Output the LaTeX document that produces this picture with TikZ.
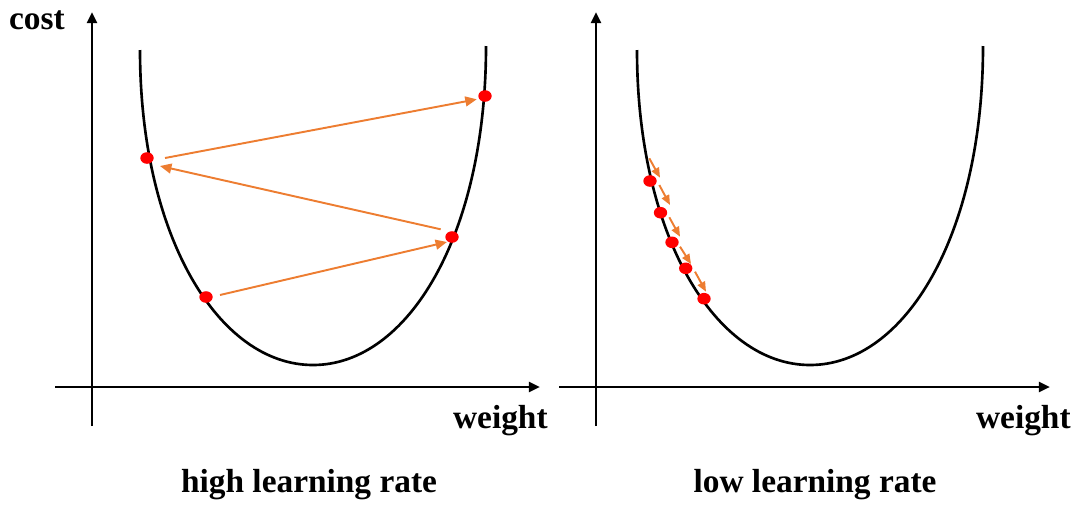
\documentclass[tikz,border=0pt]{standalone}
\usepackage{fontspec}
\setmainfont{Liberation Serif}
\usetikzlibrary{arrows.meta,shapes.geometric}
\definecolor{stepor}{HTML}{ED7D31}
\definecolor{dotred}{HTML}{FF0000}
\tikzset{
  axisline/.style={line width=1.5pt,-{Triangle[length=6.3pt,width=5.6pt]}},
  costcurve/.style={line width=1.5pt},
  dot/.style={ellipse,fill=dotred,draw=none,minimum width=7.6pt,minimum height=6.6pt,inner sep=0pt},
  bigstep/.style={stepor,line width=1.1pt,-{Triangle[length=6.5pt,width=5.6pt]}},
  smallstep/.style={stepor,line width=1.1pt,-{Triangle[length=5.6pt,width=4.6pt]}},
  lbl/.style={font=\bfseries\fontsize{19}{23}\selectfont,inner sep=0pt}
}
\begin{document}
\begin{tikzpicture}[x=0.02cm,y=-0.02cm]
\useasboundingbox (0,0) rectangle (1077,504);
% left axes
\coordinate (lx0) at (55,387);
\coordinate (lx1) at (540,387);
\coordinate (ly0) at (92,426);
\coordinate (ly1) at (92,12);
\draw[axisline] (lx0) -- (lx1);
\draw[axisline] (ly0) -- (ly1);
% right axes
\coordinate (rx0) at (559,387);
\coordinate (rx1) at (1050,387);
\coordinate (ry0) at (596,426);
\coordinate (ry1) at (596,12);
\draw[axisline] (rx0) -- (rx1);
\draw[axisline] (ry0) -- (ry1);
% curves
\draw[costcurve] (140,50) .. controls (140,235) and (218,365) .. (313,365)
  .. controls (408,365) and (486,235) .. (486,46);
\draw[costcurve] (637,50) .. controls (637,235) and (715,365) .. (810,365)
  .. controls (905,365) and (983,235) .. (983,46);
% left dots
\node[dot] (a) at (206,297) {};
\node[dot] (b) at (452,237) {};
\node[dot] (c) at (147,158) {};
\node[dot] (d) at (485,96) {};
\draw[bigstep] ([shift={(14,-2)}]a.center) -- ([shift={(-5,5)}]b.center);
\draw[bigstep] ([shift={(-11.3,-7.7)}]b.center) -- ([shift={(13,8)}]c.center);
\draw[bigstep] ([shift={(18,0)}]c.center) -- ([shift={(-8.3,3.3)}]d.center);
% right dots
\node[dot] (e1) at (650,181) {};
\node[dot] (e2) at (660.5,212.7) {};
\node[dot] (e3) at (672,242.3) {};
\node[dot] (e4) at (685.7,268.3) {};
\node[dot] (e5) at (704,298.7) {};
\coordinate (s0) at (649.3,158.3);
\draw[smallstep] (s0) -- ([shift={(10,-3.3)}]e1.center);
\draw[smallstep] ([shift={(9.3,4)}]e1.center) -- ([shift={(9.5,-7.7)}]e2.center);
\draw[smallstep] ([shift={(8.8,4.6)}]e2.center) -- ([shift={(8,-5.6)}]e3.center);
\draw[smallstep] ([shift={(8,4.4)}]e3.center) -- ([shift={(5.3,-4.3)}]e4.center);
\draw[smallstep] ([shift={(9.3,3.4)}]e4.center) -- ([shift={(2,-7)}]e5.center);
% labels
\node[lbl,anchor=base east] (cost) at (65,29) {cost};
\node[lbl,anchor=base east] (w1) at (548,428) {weight};
\node[lbl,anchor=base east] (w2) at (1071,428) {weight};
\node[lbl,anchor=base] (t1) at (309,492) {high learning rate};
\node[lbl,anchor=base] (t2) at (815,492) {low learning rate};
\end{tikzpicture}
\end{document}
